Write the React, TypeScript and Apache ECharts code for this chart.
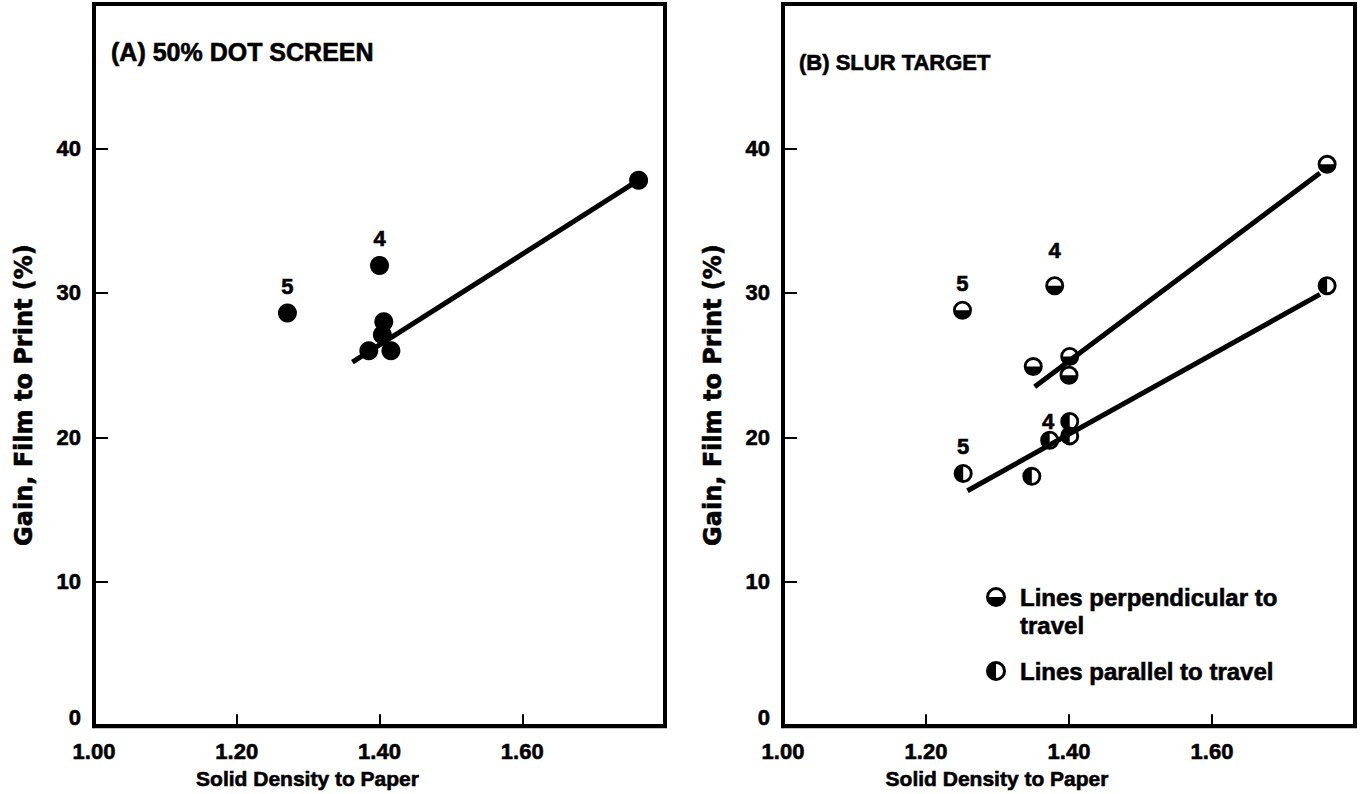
import React, { useEffect, useRef } from "react";
import * as echarts from "echarts";

// ---------- data ----------
const xTickValues = [1.0, 1.2, 1.4, 1.6, 1.8];
const yTickValues = [0, 10, 20, 30, 40, 50];

// (A) 50% dot screen
const dotScreenPoints: number[][] = [
  [1.271, 28.6],
  [1.4, 31.9],
  [1.406, 28.0],
  [1.404, 27.1],
  [1.385, 26.0],
  [1.416, 26.0],
  [1.763, 37.8],
];
const dotScreenLabels = ["5", "4", "", "", "", "", ""];
const dotScreenFit: number[][] = [
  [1.362, 25.2],
  [1.763, 37.8],
];

// (B) slur target
const perpPoints: number[][] = [
  [1.251, 28.8],
  [1.38, 30.5],
  [1.35, 24.9],
  [1.401, 25.6],
  [1.4, 24.3],
  [1.761, 38.9],
];
const perpLabels = ["5", "4", "", "", "", ""];
const perpFit: number[][] = [
  [1.352, 23.5],
  [1.751, 38.3],
];

const parPoints: number[][] = [
  [1.252, 17.5],
  [1.348, 17.3],
  [1.373, 19.8],
  [1.401, 21.1],
  [1.401, 20.1],
  [1.761, 30.5],
];
const parLabels = ["5", "", "", "4", "", ""];
const parFit: number[][] = [
  [1.258, 16.3],
  [1.751, 29.9],
];

const titles = ["(A) 50% DOT SCREEN", "(B) SLUR TARGET"];
const xName = "Solid Density to Paper";
const yName = "Gain, Film to Print (%)";
const legendPerp = ["Lines perpendicular to", "travel"];
const legendPar = "Lines parallel to travel";

// ---------- styles ----------
const FONT = "'Liberation Sans', Arial, Helvetica, sans-serif";
const WIDE_FONT = "'DejaVu Sans', 'Liberation Sans', sans-serif";
const PERP_PATH =
  "M10 0 A10 10 0 1 1 10 20 A10 10 0 1 1 10 0 Z M3 10 L17 10 A7 7 0 0 0 3 10 Z";
const PAR_PATH =
  "M10 0 A10 10 0 1 1 10 20 A10 10 0 1 1 10 0 Z M10 3 L10 17 A7 7 0 0 0 10 3 Z";

let registered = false;
function registerShapes() {
  if (registered) return;
  registered = true;
  echarts.graphic.registerShape("perpMark", echarts.graphic.extendPath(PERP_PATH, {}) as any);
  echarts.graphic.registerShape("parMark", echarts.graphic.extendPath(PAR_PATH, {}) as any);
}

const labelFont = {
  color: "#000",
  fontSize: 21,
  fontWeight: "bold" as const,
  fontFamily: FONT,
  textBorderColor: "#000",
  textBorderWidth: 0.6,
};
const tickFont = { ...labelFont, fontSize: 22 };

function withLabels(
  points: number[][],
  labels: string[],
  position: string,
  distance: number,
  special?: Record<number, { position: string; distance: number }>
) {
  return points.map((p, i) => {
    if (!labels[i]) return { value: p };
    const s = special && special[i];
    return {
      value: p,
      label: {
        show: true,
        formatter: labels[i],
        position: s ? s.position : position,
        distance: s ? s.distance : distance,
        ...labelFont,
        fontSize: 22,
      },
    };
  });
}

function makeXAxis(gridIndex: number) {
  return {
    gridIndex,
    type: "value",
    min: xTickValues[0],
    max: xTickValues[xTickValues.length - 1],
    interval: 0.2,
    axisLine: { show: true, onZero: false, lineStyle: { color: "#000", width: 4 } },
    axisTick: { show: true, inside: true, length: 12, lineStyle: { color: "#000", width: 2 } },
    splitLine: { show: false },
    axisLabel: {
      formatter: (v: number) => v.toFixed(2),
      showMaxLabel: false,
      margin: 14,
      ...tickFont,
    },
    name: xName,
    nameLocation: "middle",
    nameGap: 40,
    nameTextStyle: { ...labelFont, padding: [0, 144, 0, 0] },
  };
}

function makeYAxis(gridIndex: number) {
  return {
    gridIndex,
    type: "value",
    min: yTickValues[0],
    max: yTickValues[yTickValues.length - 1],
    interval: 10,
    axisLine: { show: true, onZero: false, lineStyle: { color: "#000", width: 4 } },
    axisTick: { show: true, inside: true, length: 14, lineStyle: { color: "#000", width: 2 } },
    splitLine: { show: false },
    axisLabel: {
      showMaxLabel: false,
      margin: 13,
      formatter: (v: number) => (v === 0 ? "{zero|0}" : String(v)),
      rich: { zero: { ...tickFont, padding: [0, 0, 18, 0] } },
      ...tickFont,
    },
    name: yName,
    nameLocation: "middle",
    nameGap: 58,
    nameTextStyle: { ...labelFont, fontFamily: WIDE_FONT, fontSize: 24, padding: [0, 60, 0, 0] },
  };
}

export default function App() {
  const ref = useRef<HTMLDivElement>(null);

  useEffect(() => {
    if (!ref.current) return;
    registerShapes();
    const chart = echarts.init(ref.current, null, { renderer: "svg" });

    const option: any = {
      animation: false,
      backgroundColor: "#fff",
      title: [
        { text: titles[0], left: 106, top: 34, textStyle: { ...labelFont, fontSize: 25 } },
        { text: titles[1], left: 794, top: 46, textStyle: { ...labelFont, fontSize: 22 } },
      ],
      grid: [
        { left: 94, top: 4, width: 571, height: 728, show: true, borderColor: "#000", borderWidth: 4, backgroundColor: "transparent" },
        { left: 783, top: 4, width: 572, height: 726, show: true, borderColor: "#000", borderWidth: 4, backgroundColor: "transparent" },
      ],
      xAxis: [makeXAxis(0), makeXAxis(1)],
      yAxis: [makeYAxis(0), makeYAxis(1)],
      series: [
        {
          type: "line",
          xAxisIndex: 0,
          yAxisIndex: 0,
          data: dotScreenFit,
          symbol: "none",
          lineStyle: { color: "#000", width: 5 },
          silent: true,
        },
        {
          type: "scatter",
          xAxisIndex: 0,
          yAxisIndex: 0,
          symbol: "circle",
          symbolSize: 19,
          itemStyle: { color: "#000", opacity: 1 },
          data: withLabels(dotScreenPoints, dotScreenLabels, "top", 6),
        },
        {
          type: "line",
          xAxisIndex: 1,
          yAxisIndex: 1,
          data: perpFit,
          symbol: "none",
          lineStyle: { color: "#000", width: 5 },
          silent: true,
        },
        {
          type: "line",
          xAxisIndex: 1,
          yAxisIndex: 1,
          data: parFit,
          symbol: "none",
          lineStyle: { color: "#000", width: 5 },
          silent: true,
        },
        {
          name: "Lines perpendicular to travel",
          type: "scatter",
          xAxisIndex: 1,
          yAxisIndex: 1,
          symbol: "path://" + PERP_PATH,
          symbolSize: 19,
          itemStyle: { color: "#000", opacity: 1 },
          data: withLabels(perpPoints, perpLabels, "top", 6, { 1: { position: "top", distance: 15 } }),
        },
        {
          name: "Lines parallel to travel",
          type: "scatter",
          xAxisIndex: 1,
          yAxisIndex: 1,
          symbol: "path://" + PAR_PATH,
          symbolSize: 19,
          itemStyle: { color: "#000", opacity: 1 },
          data: withLabels(parPoints, parLabels, "top", 6, { 3: { position: "left", distance: 6 } }),
        },
      ],
      graphic: [
        { type: "perpMark", x: 996 - 10, y: 597 - 10, scaleX: 1, scaleY: 1, style: { fill: "#000" } },
        { type: "text", x: 1020, y: 597, style: { text: legendPerp[0], font: "bold 24px " + FONT, fill: "#000", stroke: "#000", lineWidth: 0.6, verticalAlign: "middle" } },
        { type: "text", x: 1020, y: 625, style: { text: legendPerp[1], font: "bold 24px " + FONT, fill: "#000", stroke: "#000", lineWidth: 0.6, verticalAlign: "middle" } },
        { type: "parMark", x: 996 - 10, y: 671 - 10, scaleX: 1, scaleY: 1, style: { fill: "#000" } },
        { type: "text", x: 1020, y: 671, style: { text: legendPar, font: "bold 24px " + FONT, fill: "#000", stroke: "#000", lineWidth: 0.6, verticalAlign: "middle" } },
      ],
    };

    chart.setOption(option);
    return () => chart.dispose();
  }, []);

  return (
    <div
      ref={ref}
      style={{ position: "fixed", left: 0, top: 0, width: 1360, height: 794, background: "#fff" }}
    />
  );
}
